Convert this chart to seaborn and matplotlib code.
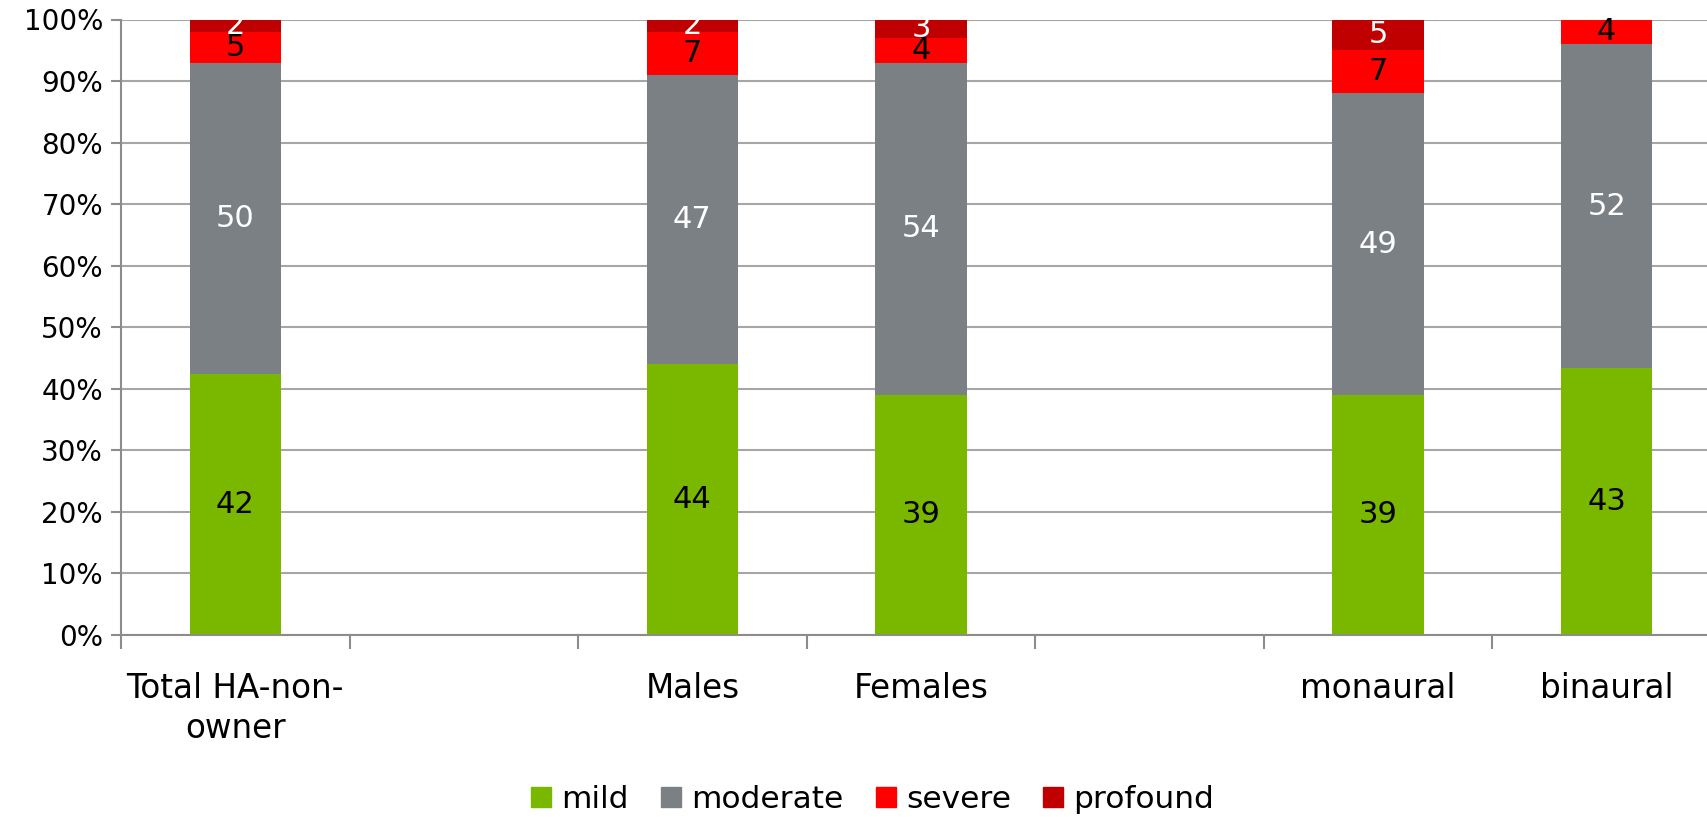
import numpy as np
import pandas as pd
import matplotlib
matplotlib.use("Agg")
import matplotlib.pyplot as plt
import seaborn as sns
from matplotlib.lines import Line2D
from matplotlib.ticker import PercentFormatter

# Hearing-loss degree among hearing-aid non-owners, by group (%)
groups = ["Total HA-non-\nowner", "Males", "Females", "monaural", "binaural"]
mild = [42, 44, 39, 39, 43]
moderate = [50, 47, 54, 49, 52]
severe = [5, 7, 4, 7, 4]
profound = [2, 2, 3, 5, 0]

series_names = ["mild", "moderate", "severe", "profound"]
series_colors = ["#7AB800", "#7B8085", "#FF0000", "#C00000"]
label_colors = ["black", "white", "black", "white"]

# slot order on the x axis, with two empty spacer slots
slot_order = [groups[0], " ", groups[1], groups[2], "  ", groups[3], groups[4]]

df = pd.DataFrame({"group": groups, "mild": mild, "moderate": moderate,
                   "severe": severe, "profound": profound})
totals = df[series_names].sum(axis=1)
shares = df[series_names].div(totals, axis=0) * 100
cum = shares.cumsum(axis=1)
lower = cum - shares

sns.set_theme(style="white")
plt.rcParams["font.family"] = ["DejaVu Sans"]
plt.rcParams["text.color"] = "black"
plt.rcParams["xtick.labelcolor"] = "black"
plt.rcParams["ytick.labelcolor"] = "black"

fig = plt.figure(figsize=(17.07, 8.17), dpi=100)
ax = fig.add_axes([121 / 1707, 1 - 635 / 817, 1600 / 1707, (635 - 19.5) / 817])

# stacked bars: draw cumulative heights from the top layer down
for name, color in reversed(list(zip(series_names, series_colors))):
    sns.barplot(x=df["group"], y=cum[name], order=slot_order, color=color,
                width=0.4, edgecolor="none", linewidth=0, saturation=1,
                ax=ax, zorder=3)

# value labels centred in each segment
pos = {g: slot_order.index(g) for g in groups}
for i, g in enumerate(groups):
    for name, tc in zip(series_names, label_colors):
        v = df.loc[i, name]
        if v <= 0:
            continue
        yc = lower.loc[i, name] + shares.loc[i, name] / 2
        ax.text(pos[g], yc, f"{v}", ha="center", va="center",
                fontsize=22, color=tc, zorder=5)

ax.set_ylim(0, 100)
ax.set_xlim(-0.5, len(slot_order) - 0.5)
ax.yaxis.set_major_formatter(PercentFormatter(decimals=0))
ax.set_yticks(np.arange(0, 101, 10))
ax.yaxis.grid(True, color="#A6A6A6", linewidth=1.5, zorder=0)
ax.set_axisbelow(True)
ax.set_xlabel("")
ax.set_ylabel("")

ax.set_xticks(range(len(slot_order)))
ax.set_xticklabels(slot_order, fontsize=23.5, linespacing=1.25)
ax.set_xticks(np.arange(-0.5, len(slot_order), 1), minor=True)
ax.tick_params(axis="x", which="major", length=0, pad=27, labelcolor="black")
ax.tick_params(axis="x", which="minor", length=10, width=1.5, color="#8C8C8C",
               direction="out", bottom=True)
ax.tick_params(axis="y", length=7, width=1.5, color="#8C8C8C", direction="out",
               left=True, labelsize=20, pad=6, labelcolor="black")

for s in ["top", "right"]:
    ax.spines[s].set_visible(False)
for s in ["left", "bottom"]:
    ax.spines[s].set_color("#8C8C8C")
    ax.spines[s].set_linewidth(1.5)
    ax.spines[s].set_zorder(4)

handles = [Line2D([0], [0], marker="s", linestyle="none", markersize=14,
                  markerfacecolor=c, markeredgecolor=c) for c in series_colors]
fig.legend(handles, series_names, loc="center", bbox_to_anchor=(0.511, 0.021),
           ncol=4, frameon=False, fontsize=22.5, handlelength=0.7,
           handletextpad=0.3, columnspacing=1.0, labelcolor="black")

fig.savefig("out.png", dpi=100)
